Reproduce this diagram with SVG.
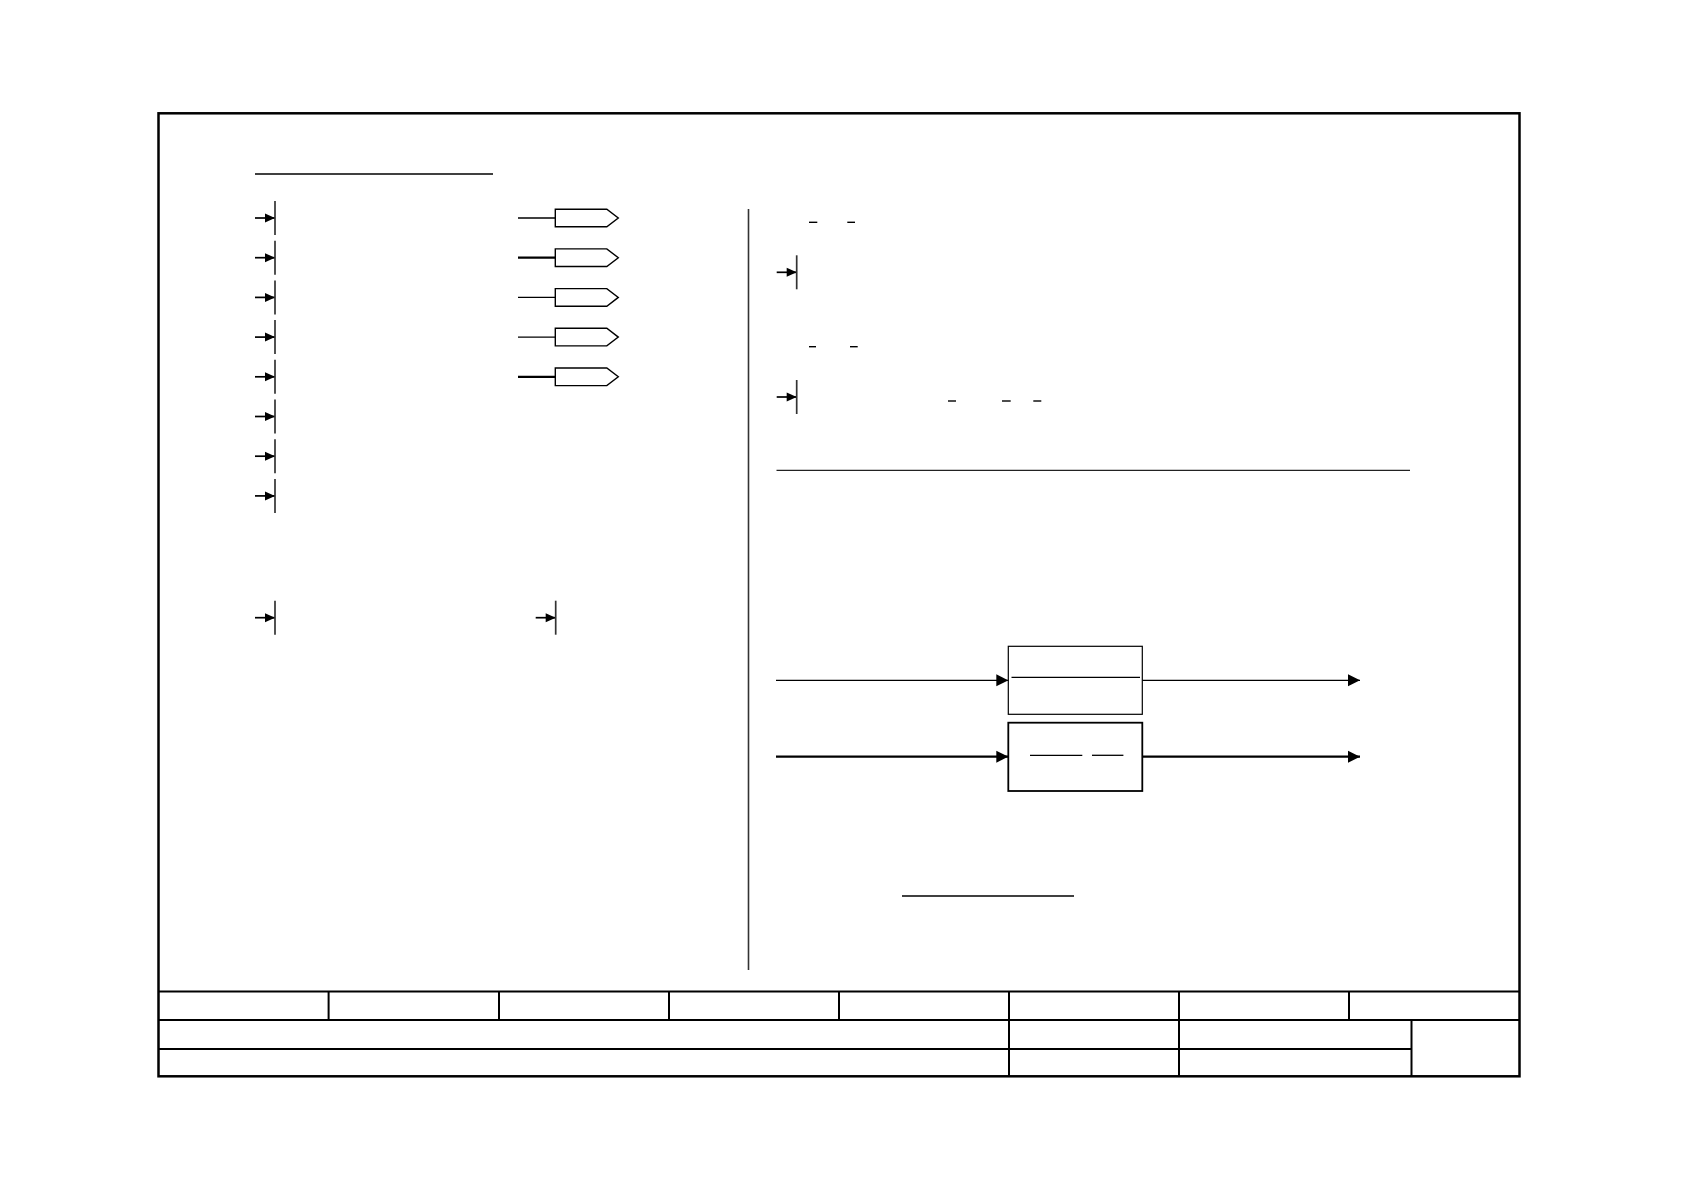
<svg xmlns="http://www.w3.org/2000/svg" width="1684" height="1190" viewBox="0 0 1684 1190">
<defs>
<style>
.frame{fill:none;stroke:#000;stroke-width:2.5}
.tb{fill:none;stroke:#000;stroke-width:2}
.thin{stroke:#000;stroke-width:1.3;fill:none}
.thick{stroke:#000;stroke-width:2.2;fill:none}
.bar{stroke:#333;stroke-width:1.7}
.pa{stroke:#000;stroke-width:1.7}
.pent{fill:#fff;stroke:#000;stroke-width:1.4}
.box{fill:#fff;stroke:#000}
</style>
<marker id="ahb" viewBox="0 0 12 12" refX="12" refY="6" markerWidth="12" markerHeight="13" markerUnits="userSpaceOnUse" orient="auto"><path d="M0,0 L12,6 L0,12 Z" fill="#000"/></marker>
<symbol id="pin" overflow="visible"><line x1="-20" y1="0" x2="0" y2="0" class="pa"/><path d="M-10,-4.5 L0,0 L-10,4.5 Z" fill="#000"/><line x1="0" y1="-17" x2="0" y2="17" class="bar"/></symbol>
<symbol id="pent" overflow="visible"><path d="M0,-8.8 L51.5,-8.8 L63,0 L51.5,8.8 L0,8.8 Z" class="pent"/></symbol>
</defs>
<rect width="1684" height="1190" fill="#fff"/>
<g id="frame">
<rect x="158.5" y="113.3" width="1361" height="963" class="frame"/>
</g>
<g id="titleblock">
<line x1="158.5" y1="991.5" x2="1519.5" y2="991.5" class="tb"/>
<line x1="158.5" y1="1020" x2="1519.5" y2="1020" class="tb" stroke-width="2.5"/>
<line x1="158.5" y1="1049" x2="1411.5" y2="1049" class="tb"/>
<line x1="328.6" y1="991.5" x2="328.6" y2="1020" class="tb"/>
<line x1="499" y1="991.5" x2="499" y2="1020" class="tb"/>
<line x1="669" y1="991.5" x2="669" y2="1020" class="tb"/>
<line x1="839" y1="991.5" x2="839" y2="1020" class="tb"/>
<line x1="1009" y1="991.5" x2="1009" y2="1076" class="tb"/>
<line x1="1179" y1="991.5" x2="1179" y2="1076" class="tb"/>
<line x1="1349" y1="991.5" x2="1349" y2="1020" class="tb"/>
<line x1="1411.5" y1="1020" x2="1411.5" y2="1076" class="tb"/>
</g>
<g id="left-panel">
<line x1="255" y1="174" x2="493" y2="174" class="thin"/>
<g id="inputs">
<use href="#pin" x="275" y="218"/>
<use href="#pin" x="275" y="257.7"/>
<use href="#pin" x="275" y="297.4"/>
<use href="#pin" x="275" y="337.1"/>
<use href="#pin" x="275" y="376.8"/>
<use href="#pin" x="275" y="416.5"/>
<use href="#pin" x="275" y="456.2"/>
<use href="#pin" x="275" y="495.9"/>
<use href="#pin" x="275" y="617.7"/>
<use href="#pin" x="555.7" y="617.7"/>
</g>
<g id="outputs">
<line x1="518" y1="218" x2="555.3" y2="218" class="thin"/>
<line x1="518" y1="257.7" x2="555.3" y2="257.7" class="thick"/>
<line x1="518" y1="297.4" x2="555.3" y2="297.4" class="thin"/>
<line x1="518" y1="337.1" x2="555.3" y2="337.1" class="thin"/>
<line x1="518" y1="376.8" x2="555.3" y2="376.8" class="thick"/>
<use href="#pent" x="555.3" y="218"/>
<use href="#pent" x="555.3" y="257.7"/>
<use href="#pent" x="555.3" y="297.4"/>
<use href="#pent" x="555.3" y="337.1"/>
<use href="#pent" x="555.3" y="376.8"/>
</g>
</g>
<g id="divider">
<line x1="748.5" y1="209" x2="748.5" y2="970" stroke="#333" stroke-width="1.6"/>
</g>
<g id="right-panel">
<g id="dashes" stroke="#000" stroke-width="1.4">
<line x1="809" y1="222.3" x2="817.3" y2="222.3"/>
<line x1="847.3" y1="222.3" x2="855" y2="222.3"/>
<line x1="809" y1="346.7" x2="816" y2="346.7"/>
<line x1="850" y1="346.7" x2="857.7" y2="346.7"/>
<line x1="948" y1="401" x2="956" y2="401"/>
<line x1="1002" y1="401" x2="1010.7" y2="401"/>
<line x1="1033.3" y1="401" x2="1041.3" y2="401"/>
</g>
<use href="#pin" x="796.7" y="272.3"/>
<use href="#pin" x="796.7" y="397"/>
<line x1="776.5" y1="470.4" x2="1410" y2="470.4" stroke="#222" stroke-width="1.2"/>
<line x1="902" y1="896" x2="1074" y2="896" stroke="#000" stroke-width="1.4"/>
</g>
<g id="node-box1">
<rect x="1008.3" y="646.3" width="134" height="68" class="box" stroke-width="1.2"/>
<line x1="1011.5" y1="677.3" x2="1140" y2="677.3" class="thin"/>
</g>
<g id="node-box2">
<rect x="1008.3" y="722.7" width="134" height="68.3" class="box" stroke-width="1.8"/>
<line x1="1030" y1="755.3" x2="1082.3" y2="755.3" class="thin"/>
<line x1="1092" y1="755.3" x2="1123.4" y2="755.3" class="thin"/>
</g>
<g id="connectors">
<line x1="776" y1="680.3" x2="1008.3" y2="680.3" stroke="#000" stroke-width="1.3" marker-end="url(#ahb)"/>
<line x1="1142.3" y1="680.3" x2="1360" y2="680.3" stroke="#000" stroke-width="1.3" marker-end="url(#ahb)"/>
<line x1="776" y1="756.7" x2="1008.3" y2="756.7" stroke="#000" stroke-width="2.2" marker-end="url(#ahb)"/>
<line x1="1142.3" y1="756.7" x2="1360" y2="756.7" stroke="#000" stroke-width="2.2" marker-end="url(#ahb)"/>
</g>
</svg>
